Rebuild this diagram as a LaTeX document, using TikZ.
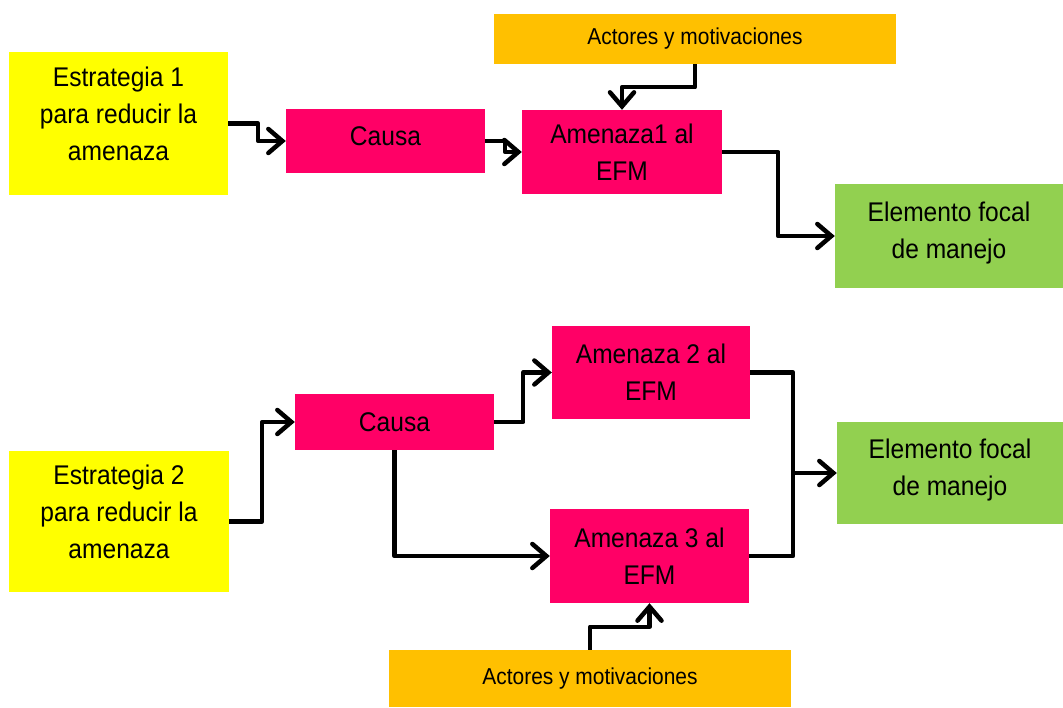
\documentclass[tikz,border=0pt]{standalone}
\usepackage{fontspec}
\setmainfont{Liberation Sans}[FakeStretch=0.91]
\usetikzlibrary{arrows.meta}
\definecolor{estrat}{HTML}{FFFF00}
\definecolor{amen}{HTML}{FF0066}
\definecolor{actor}{HTML}{FFC000}
\definecolor{focal}{HTML}{92D050}
% extra depth under the last line lifts a text block inside its box
\newcommand{\liftby}[1]{\rule[-#1]{0pt}{0pt}}
\tikzset{
  box/.style={draw=none, align=center, inner sep=0pt,
    font=\fontsize{27}{37}\selectfont},
  smallbox/.style={box, font=\fontsize{23}{28}\selectfont},
  link/.style={line width=4.5pt, line join=round},
  arr/.style={link, -{Straight Barb[length=14pt,width=24pt,line cap=round]}}
}
\begin{document}
\begin{tikzpicture}[x=1pt,y=-1pt]
\useasboundingbox (0,0) rectangle (1063,707);

% upper chain
\node[box, fill=estrat, minimum width=219, minimum height=143] (e1) at (118.5,123.5)
  {Estrategia 1\\para reducir la\\amenaza\liftby{20pt}};
\node[box, fill=amen, minimum width=199, minimum height=64] (c1) at (385.5,141) {Causa\liftby{10pt}};
\node[box, fill=amen, minimum width=200, minimum height=84] (a1) at (622,152) {Amenaza1 al\\EFM};
\node[smallbox, fill=actor, minimum width=402, minimum height=50] (act1) at (695,39) {Actores y motivaciones};
\node[box, fill=focal, minimum width=228, minimum height=104] (f1) at (949,236) {Elemento focal\\de manejo\liftby{12pt}};

% lower chain
\node[box, fill=estrat, minimum width=220, minimum height=141] (e2) at (119,521.5)
  {Estrategia 2\\para reducir la\\amenaza\liftby{20pt}};
\node[box, fill=amen, minimum width=199, minimum height=56] (c2) at (394.5,422) {Causa};
\node[box, fill=amen, minimum width=198, minimum height=93] (a2) at (651,372.5) {Amenaza 2 al\\EFM};
\node[box, fill=amen, minimum width=199, minimum height=94] (a3) at (649.5,556) {Amenaza 3 al\\EFM};
\node[box, fill=focal, minimum width=226, minimum height=102] (f2) at (950,473) {Elemento focal\\de manejo\liftby{12pt}};
\node[smallbox, fill=actor, minimum width=402, minimum height=57] (act2) at (590,678.5) {Actores y motivaciones};

\coordinate (j) at (793,473);

% connectors, upper chain
\draw[arr] (e1.east) -- ++(30,0) |- (c1.west);
\draw[arr] (c1.east) -- ++(20,0) |- (a1.west);
\draw[arr] (act1.south) -- ++(0,23) -| (a1.north);
\draw[arr] (a1.east) -- ++(56,0) |- (f1.west);

% connectors, lower chain
\draw[arr] (e2.east) -- ++(33,0) |- (c2.west);
\draw[arr] (c2.east) -- ++(29,0) |- (a2.west);
\draw[arr] (c2.south) |- (a3.west);
\draw[link] (a2.east) -| (j);
\draw[link] (a3.east) -| (j);
\draw[arr] (j) -- (f2.west);
\draw[arr] (act2.north) -- ++(0,-23) -| (a3.south);
\end{tikzpicture}
\end{document}
